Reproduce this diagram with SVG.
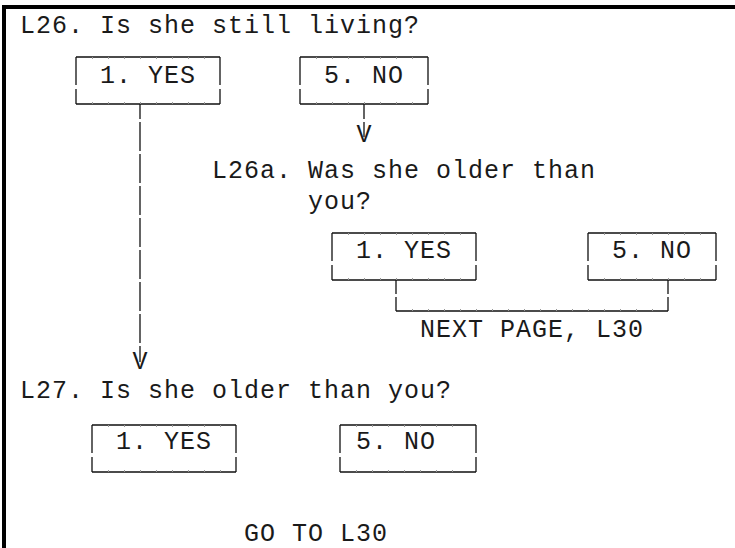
<svg xmlns="http://www.w3.org/2000/svg" width="735" height="548" viewBox="0 0 735 548">
<style>
.t{font-family:"Liberation Mono","DejaVu Sans Mono",monospace;font-size:25px;letter-spacing:1px;fill:#1a1a1a}
.v{font-family:"Liberation Mono","DejaVu Sans Mono",monospace;font-size:25px;fill:#1a1a1a;text-anchor:middle}
.ln{stroke:#111;stroke-width:1.3;fill:none}
.tk{stroke:#999;stroke-width:2;fill:none;stroke-dasharray:1 15}
</style>
<rect x="2" y="5" width="733" height="4" fill="#000"/>
<rect x="2" y="5" width="4" height="543" fill="#000"/>

<g id="q-l26"><text class="t" x="20" y="33">L26. Is she still living?</text></g>

<g id="box-l26-yes">
<path class="ln" d="M76 57H220M76 104H220M76 57V85M76 89V104M220 57V85M220 89V104"/>
<path class="tk" d="M92 58H205M92 103H205"/>
<text class="t" x="100" y="83">1. YES</text>
</g>
<g id="box-l26-no">
<path class="ln" d="M300 57H428M300 104H428M300 57V85M300 89V104M428 57V85M428 89V104"/>
<path class="tk" d="M316 58H413M316 103H413"/>
<text class="t" x="324" y="83">5. NO</text>
</g>

<g id="q-l26a"><text class="t" x="212" y="178">L26a. Was she older than</text><text class="t" x="308" y="209">you?</text></g>

<g id="box-l26a-yes">
<path class="ln" d="M332 233H476M332 280H476M332 233V261M332 265V280M476 233V261M476 265V280"/>
<path class="tk" d="M348 234H461M348 279H461"/>
<text class="t" x="356" y="258">1. YES</text>
</g>
<g id="box-l26a-no">
<path class="ln" d="M588 233H716M588 280H716M588 233V261M588 265V280M716 233V261M716 265V280"/>
<path class="tk" d="M604 234H701M604 279H701"/>
<text class="t" x="612" y="258">5. NO</text>
</g>

<g id="next-page"><text class="t" x="420" y="337">NEXT PAGE, L30</text></g>

<g id="q-l27"><text class="t" x="20" y="398">L27. Is she older than you?</text></g>

<g id="box-l27-yes">
<path class="ln" d="M92 425H236M92 472H236M92 425V453M92 457V472M236 425V453M236 457V472"/>
<path class="tk" d="M108 426H221M108 471H221"/>
<text class="t" x="116" y="449">1. YES</text>
</g>
<g id="box-l27-no">
<path class="ln" d="M340 425H476M340 472H476M340 425V453M340 457V472M476 425V453M476 457V472"/>
<path class="tk" d="M356 426H461M356 471H461"/>
<text class="t" x="356" y="449">5. NO</text>
</g>

<g id="goto"><text class="t" x="244" y="541">GO TO L30</text></g>

<g id="connectors">
<path class="ln" d="M140 104V119M140 122V151M140 154V183M140 186V215M140 218V247M140 250V279M140 282V311M140 314V343M140 346V362"/>
<text class="v" x="140" y="369">V</text>
<path class="ln" d="M364 104V119M364 122V137"/>
<text class="v" x="364" y="142">V</text>
<path class="ln" d="M396 280V294M396 297V311M668 280V294M668 297V311M396 311H668"/>
<path class="tk" d="M412 310H653"/>
</g>
</svg>
